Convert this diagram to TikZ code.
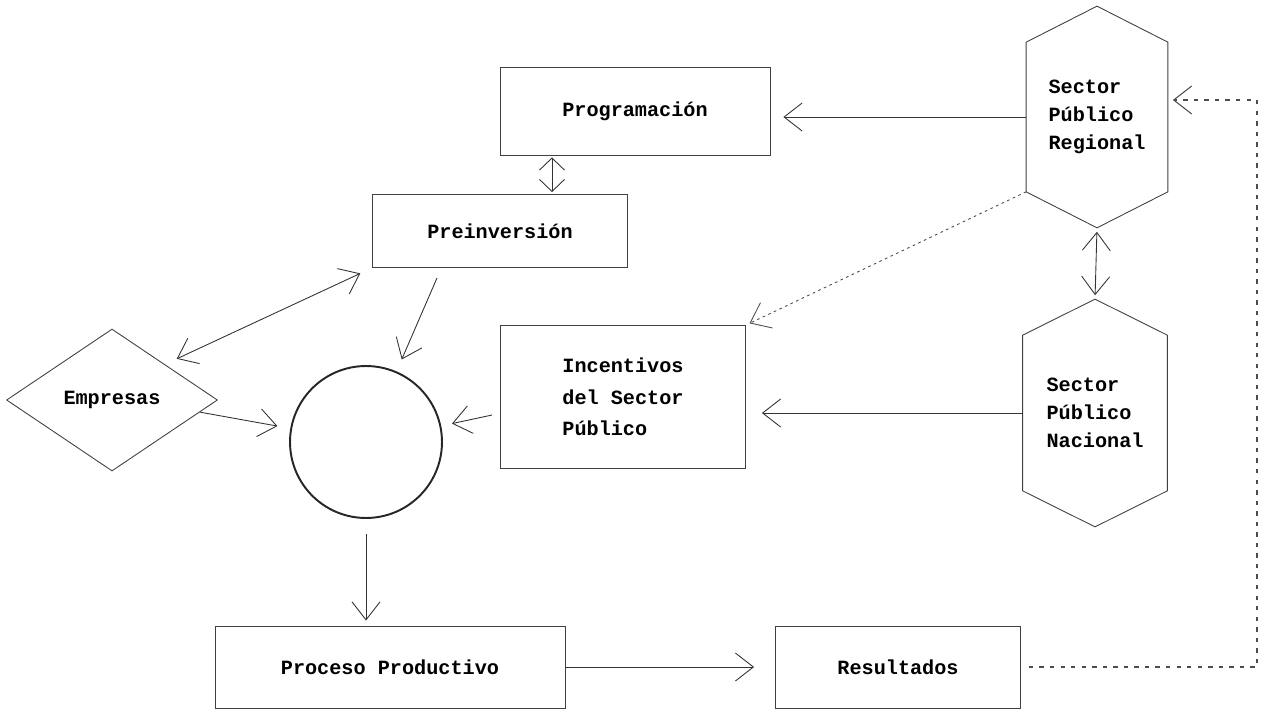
\documentclass[tikz,border=0pt]{standalone}
\usepackage{fontspec}
\setmonofont{Liberation Mono}
\usetikzlibrary{
  arrows.meta,
  calc,
  shapes.geometric
}
\newcommand{\hexoutline}[2]{%
  \draw [hexline] (#1.north) -- ([yshift=-#2]#1.north east)
    -- ([yshift=#2]#1.south east) -- (#1.south)
    -- ([yshift=#2]#1.south west) -- ([yshift=-#2]#1.north west) -- cycle;}
\tikzset{
  plainbox/.style={
    draw=black!75,
    line width=0.5pt,
    rectangle,
    inner sep=0pt,
    align=left,
    font=\ttfamily\bfseries\fontsize{11.5}{18}\selectfont},
  hexnode/.style={
    rectangle,
    inner sep=0pt,
    align=left,
    font=\ttfamily\bfseries\fontsize{11.5}{16}\selectfont},
  hexline/.style={draw=black!75, line width=0.5pt},
  flow/.style={->, color=black!80, line width=0.5pt},
  dotflow/.style={->, draw=black!70, line width=0.5pt,
    dash pattern=on 1.5pt off 2pt},
  feedback/.style={->, draw=black!70, line width=0.6pt,
    dash pattern=on 2.5pt off 3.5pt}
}
\begin{document}
\begin{tikzpicture}[x=0.02cm, y=-0.02cm,
    >={Straight Barb[length=3.6mm,width=5.6mm]}]
  \useasboundingbox (0,0) rectangle (1271,710);
  \node[plainbox, minimum width=5.4cm, minimum height=1.76cm] (prog) at (635,111) {Programación};
  \node[plainbox, minimum width=5.1cm, minimum height=1.46cm] (pre) at (500,231) {Preinversión};
  \node[plainbox, minimum width=4.9cm, minimum height=2.86cm] (inc) at (623,397) {Incentivos\\del Sector\\Público};
  \node[plainbox, minimum width=7cm, minimum height=1.64cm] (proc) at (390,667) {Proceso Productivo};
  \node[plainbox, minimum width=4.9cm, minimum height=1.64cm] (res) at (898,667) {Resultados};
  \node[plainbox, diamond, minimum width=4.22cm, minimum height=2.84cm] (emp) at (112,400) {Empresas};
  \node[circle, draw=black!85, line width=1.1pt, minimum size=3.04cm] (circ) at (366,442) {};
  \node[hexnode, minimum width=2.82cm, minimum height=4.42cm] (reg) at (1097,117) {Sector\\Público\\Regional};
  \node[hexnode, minimum width=2.88cm, minimum height=4.54cm] (nac) at (1095,413) {Sector\\Público\\Nacional};
  \hexoutline{reg}{0.72cm}
  \hexoutline{nac}{0.72cm}

  \coordinate (pp) at ([xshift=1.04cm]pre.north);
  \coordinate (empout) at ($(emp.east)!0.17!(emp.south)$);
  \coordinate (prestart) at ([xshift=-1.26cm, yshift=-0.2cm]pre.south);
  \coordinate (incout) at ([xshift=-0.16cm, yshift=-0.36cm]inc.west);
  \coordinate (regcorner) at ([yshift=0.72cm]reg.south west);
  \coordinate (fb) at (1257,100);

  \path [flow]
    (reg.west) edge[shorten >=0.26cm] (prog.east |- reg.west)
    (nac.west) edge[shorten >=0.32cm] (inc.east |- nac.west)
    (prestart) edge[shorten >=0.26cm] (circ)
    (empout) edge[shorten >=0.26cm] (circ)
    (incout) edge[shorten >=0.22cm] (circ)
    (circ.south) edge[shorten <=0.3cm, shorten >=0.1cm] (circ.south |- proc.north)
    (proc.east) edge[shorten >=0.42cm] (res.west);
  \draw [flow, <->, shorten <=0.26cm, shorten >=0.26cm] (emp.north east) -- (pre.south west);
  \draw [flow, <->, shorten <=0.08cm, shorten >=0.08cm] (reg.south) -- (nac.north);
  \draw [flow, <->, >={Straight Barb[length=2.4mm,width=5mm]}, shorten <=0.04cm, shorten >=0.04cm]
    (pp) -- (pp |- prog.south);
  \draw [dotflow, shorten >=0.08cm] (regcorner) -- (inc.north east);
  \draw [feedback, shorten <=0.16cm, shorten >=0.1cm] (res.east) -| (fb) -- (reg.east |- fb);
\end{tikzpicture}
\end{document}
